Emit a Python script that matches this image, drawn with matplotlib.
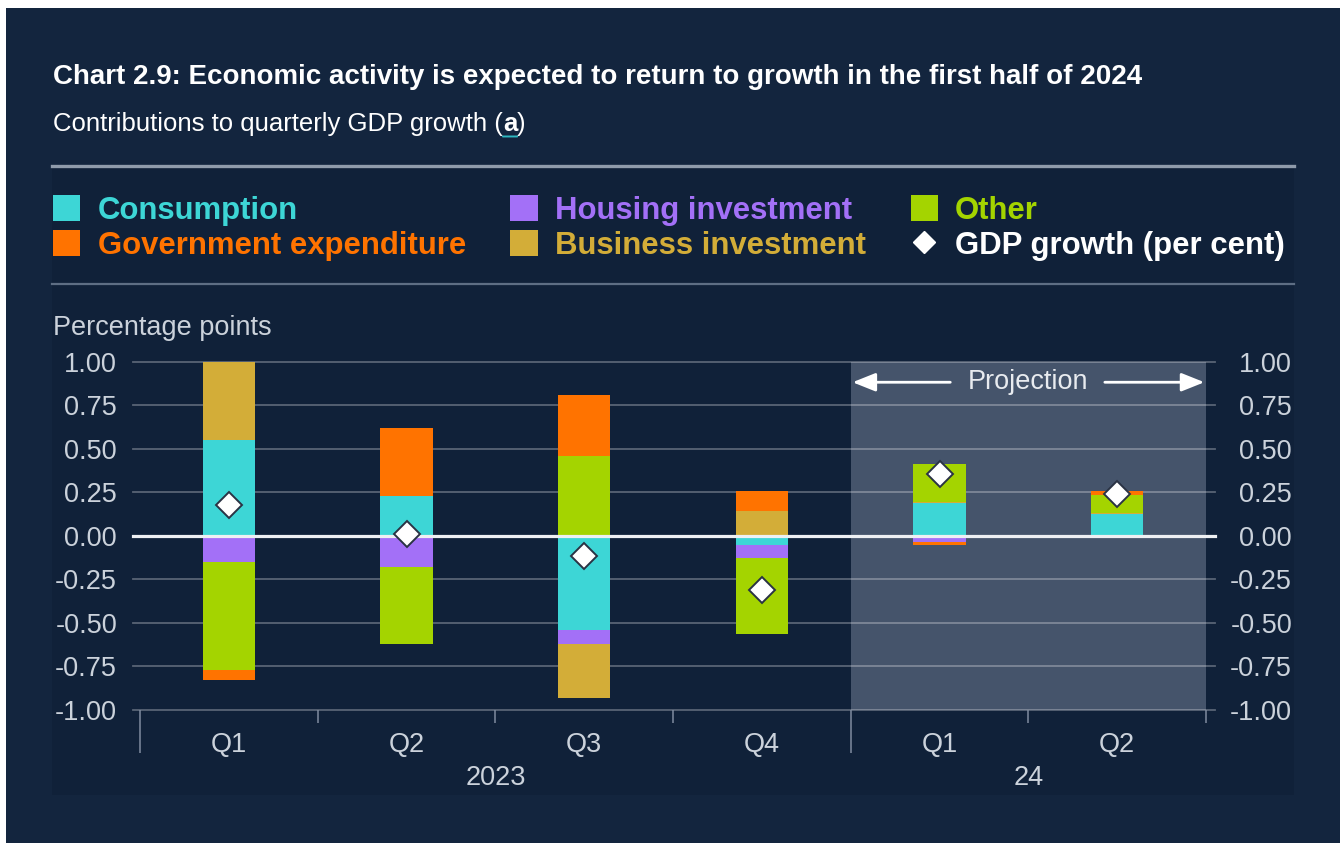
import numpy as np
import matplotlib
matplotlib.use('Agg')
import matplotlib.pyplot as plt
from matplotlib.lines import Line2D
from matplotlib.patches import Rectangle
from matplotlib.ticker import FixedLocator, FixedFormatter

plt.rcParams['font.family'] = ['Liberation Sans', 'DejaVu Sans']

# ---------------- data ----------------
quarters = ['Q1', 'Q2', 'Q3', 'Q4', 'Q1', 'Q2']
years = ['2023', '24']
year_centres = [1.5, 4.5]
series_names = ['Consumption', 'Government expenditure', 'Housing investment',
                'Business investment', 'Other']
consumption = [0.55, 0.23, -0.54, -0.05, 0.19, 0.125]
housing = [-0.15, -0.18, -0.08, -0.075, -0.035, -0.012]
business = [0.45, 0.0, -0.31, 0.14, 0.005, 0.004]
other = [-0.62, -0.44, 0.46, -0.44, 0.215, 0.105]
government = [-0.055, 0.39, 0.35, 0.12, -0.018, 0.025]
gdp = [0.18, 0.01, -0.115, -0.31, 0.355, 0.24]
gdp_name = 'GDP growth (per cent)'
yticks = [-1.0, -0.75, -0.5, -0.25, 0.0, 0.25, 0.5, 0.75, 1.0]
projection_span = [3.5, 5.5]

# ---------------- style ----------------
C_CONS = '#3dd6d6'
C_GOV = '#ff7300'
C_HOUS = '#a370f7'
C_BUS = '#d3ad38'
C_OTH = '#a4d400'
BG_OUT = '#13253e'
BG_IN = '#102139'
TXT = '#cbd2db'

W, H = 1340, 843
fig = plt.figure(figsize=(W / 100, H / 100), dpi=100, facecolor='white')

def fx(px):
    return px / W

def fy(py):
    return 1 - py / H

fig.add_artist(Rectangle((fx(6), 0), 1, fy(8), transform=fig.transFigure,
                         facecolor=BG_OUT, edgecolor='none', zorder=-10))
fig.add_artist(Rectangle((fx(52), fy(795)), fx(1294) - fx(52), fy(165) - fy(795),
                         transform=fig.transFigure, facecolor=BG_IN,
                         edgecolor='none', zorder=-9))

# title
fig.text(fx(53), fy(83.5), 'Chart 2.9: Economic activity is expected to return to growth in the first half of 2024',
         fontsize=20.0, weight='bold', color='white', va='baseline')

# separator lines
fig.add_artist(Line2D([fx(52), fx(1294)], [fy(165.5)] * 2, color='#8f9bab', lw=2.4,
                      transform=fig.transFigure))
fig.add_artist(Line2D([fx(52), fx(1294)], [fy(283.5)] * 2, color='#5e6e84', lw=1.6,
                      transform=fig.transFigure))

# ---------------- axes ----------------
ax = fig.add_axes([fx(133), fy(710), fx(1215) - fx(133), fy(361.7) - fy(710)])
ax.set_facecolor('none')
x = np.arange(len(quarters))
ax.set_xlim(-0.54, 5.55)
ax.set_ylim(-1, 1)

ax.axvspan(projection_span[0], projection_span[1], color='#45546b', zorder=0, lw=0)
for v in yticks:
    if v == 0:
        continue
    ax.axhline(v, color='white', alpha=0.3, lw=1.3, zorder=1, clip_on=False)

series = [consumption, housing, business, other, government]
colors = [C_CONS, C_HOUS, C_BUS, C_OTH, C_GOV]
labels = [series_names[0], series_names[2], series_names[3], series_names[4], series_names[1]]
pos_base = np.zeros(len(x))
neg_base = np.zeros(len(x))
handles = {}
for vals, col, lab in zip(series, colors, labels):
    vals = np.asarray(vals, dtype=float)
    bottoms = np.where(vals >= 0, pos_base, neg_base)
    bc = ax.bar(x, vals, width=0.295, bottom=bottoms, color=col, lw=0, zorder=2, label=lab)
    handles[lab] = bc
    pos_base = pos_base + np.where(vals >= 0, vals, 0)
    neg_base = neg_base + np.where(vals < 0, vals, 0)

ax.axhline(0, color='#eef0f3', lw=2.3, zorder=3, clip_on=False)

gline, = ax.plot(x, gdp, ls='none', marker='D', ms=13.5, mfc='white', mec='#2a3344',
                 mew=1.4, zorder=5, label=gdp_name)

# projection annotation
ax.text(4.5, 0.882, 'Projection', ha='center', va='center', fontsize=19.5, color='#e8ebef', zorder=6)
ap = dict(arrowstyle='-|>,head_length=1.0,head_width=0.4', color='white', lw=2.0,
          shrinkA=0, shrinkB=0, mutation_scale=14)
ax.annotate('', xy=(3.51, 0.882), xytext=(4.06, 0.882), arrowprops=ap, zorder=6)
ax.annotate('', xy=(5.49, 0.882), xytext=(4.93, 0.882), arrowprops=ap, zorder=6)

# spines and ticks
for s in ax.spines.values():
    s.set_visible(False)
ax.xaxis.set_major_locator(FixedLocator([-0.5, 3.5]))
ax.xaxis.set_minor_locator(FixedLocator([0.5, 1.5, 2.5, 4.5, 5.5]))
ax.tick_params(axis='x', which='major', length=31, width=1.1, color='#7f8ca0',
               labelbottom=False, direction='out')
ax.tick_params(axis='x', which='minor', length=9.5, width=1.1, color='#7f8ca0',
               labelbottom=False, direction='out')

ylabels = [f'{v:.2f}' for v in yticks]
ax.yaxis.set_major_locator(FixedLocator(yticks))
ax.yaxis.set_major_formatter(FixedFormatter(ylabels))
ax.tick_params(axis='y', length=0, pad=11.5, labelsize=19.5, labelcolor=TXT)

ax2 = ax.twinx()
ax2.set_ylim(-1, 1)
ax2.set_facecolor('none')
for s in ax2.spines.values():
    s.set_visible(False)
ax2.yaxis.set_major_locator(FixedLocator(yticks))
ax2.yaxis.set_major_formatter(FixedFormatter(ylabels))
ax2.tick_params(axis='y', length=0, pad=55.5, labelsize=19.5, labelcolor=TXT)
for t in ax2.get_yticklabels():
    t.set_horizontalalignment('right')

trans = ax.get_xaxis_transform()
for xi, q in zip(x, quarters):
    ax.text(xi, -0.1005, q, transform=trans, ha='center', va='center', fontsize=19.5,
            color=TXT, clip_on=False)
for xc, yr in zip(year_centres, years):
    ax.text(xc, -0.196, yr, transform=trans, ha='center', va='center', fontsize=19.5,
            color=TXT, clip_on=False)

fig.text(fx(53), fy(335), 'Percentage points', fontsize=19.5, color=TXT, va='baseline')

# subtitle (with bold note marker)
t1 = fig.text(fx(53), fy(136), 'Contributions to quarterly GDP growth (', fontsize=18.5,
              color='white', va='bottom')
t2 = ax.annotate('a', xy=(1, 0), xycoords=t1, fontsize=18.5, color='white', weight='bold',
                 va='bottom', ha='left', annotation_clip=False)
t3 = ax.annotate(')', xy=(1, 0), xycoords=t2, fontsize=18.5, color='white',
                 va='bottom', ha='left', annotation_clip=False)
ax.annotate('', xy=(0, -0.02), xycoords=t2, xytext=(1, -0.02), textcoords=t2,
            arrowprops=dict(arrowstyle='-', color='#2fb8c0', lw=1.4, shrinkA=0, shrinkB=0),
            annotation_clip=False)

# legend
gdp_handle = Line2D([], [], ls='none', marker='D', ms=11.5, mfc='white', mec='white')
order = [series_names[0], series_names[1], series_names[2], series_names[3], series_names[4]]
leg_handles = [handles[n] for n in order] + [gdp_handle]
leg_labels = order + [gdp_name]
leg = fig.legend(leg_handles, leg_labels, ncol=3, loc='center left',
                 bbox_to_anchor=(fx(53), fy(228)), frameon=False,
                 prop={'weight': 'bold', 'size': 22.45}, handlelength=0.88,
                 handleheight=0.88, handletextpad=0.55, columnspacing=1.43,
                 labelspacing=0.13, borderpad=0, borderaxespad=0)
txt_colors = [C_CONS, C_GOV, C_HOUS, C_BUS, C_OTH, 'white']
for t, c in zip(leg.get_texts(), txt_colors):
    t.set_color(c)

fig.savefig('out.png', dpi=100, facecolor=fig.get_facecolor())
